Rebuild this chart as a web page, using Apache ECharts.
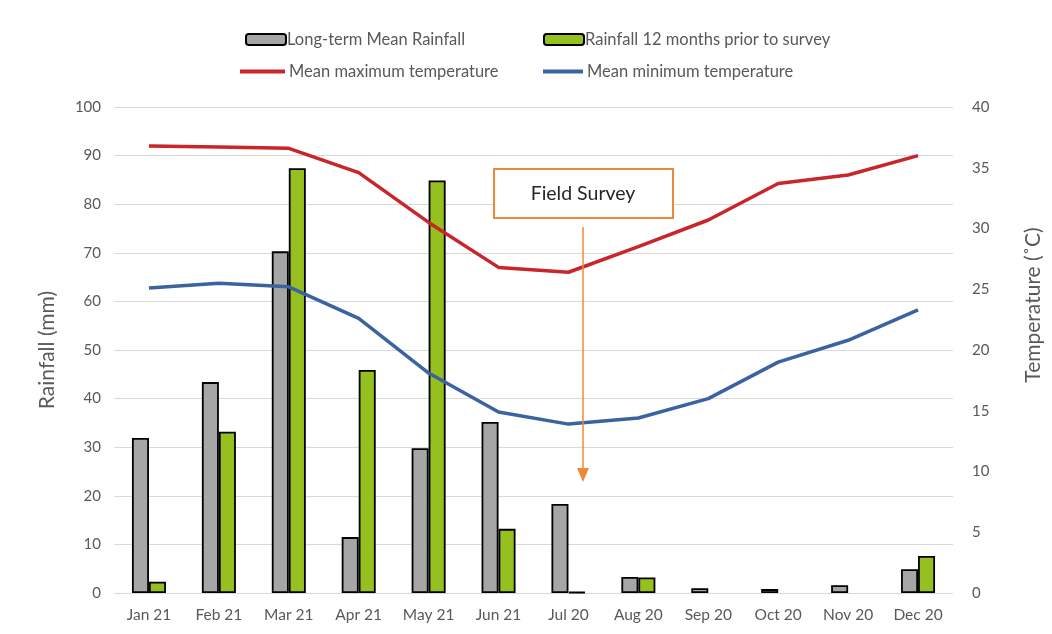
<!DOCTYPE html>
<html><head><meta charset="utf-8">
<script src="https://cdn.jsdelivr.net/npm/echarts@6/dist/echarts.min.js"></script>
<style>html,body{margin:0;padding:0;background:#fff}#c{width:1052px;height:634px}</style>
</head><body><div id="c"></div>
<script>
const categories = ['Jan 21','Feb 21','Mar 21','Apr 21','May 21','Jun 21','Jul 20','Aug 20','Sep 20','Oct 20','Nov 20','Dec 20'];
const longTermRain = [31.9, 43.4, 70.3, 11.5, 29.8, 35.2, 18.3, 3.3, 1.0, 0.8, 1.6, 4.9];
const priorRain = [2.3, 33.2, 87.4, 45.9, 84.9, 13.2, 0.2, 3.2, null, null, null, 7.6];
const maxTemp = [36.8, 36.7, 36.6, 34.6, 30.5, 26.8, 26.4, 28.5, 30.7, 33.7, 34.4, 36.0];
const minTemp = [25.1, 25.5, 25.2, 22.6, 18.1, 14.9, 13.9, 14.4, 16.0, 19.0, 20.8, 23.3];

const FONT = 'Lato';
const TXT = '#595959';
const chart = echarts.init(document.getElementById('c'));
const legendBase = {
  itemWidth: 40, itemHeight: 11, itemGap: 0,
  textStyle: { fontFamily: FONT, fontSize: 16.5, color: TXT, padding: [0,0,0,-4] },
  selectedMode: false
};
const lineLegendText = { fontFamily: FONT, fontSize: 16.5, color: TXT, padding: [0,0,0,-1] };
chart.setOption({
  animation: false,
  textStyle: { fontFamily: FONT },
  legend: [
    Object.assign({}, legendBase, { left: 240, top: 26, data: ['Long-term Mean Rainfall'] }),
    Object.assign({}, legendBase, { left: 538, top: 26, data: ['Rainfall 12 months prior to survey'] }),
    Object.assign({}, legendBase, { left: 235, top: 58, itemWidth: 45, itemHeight: 4, textStyle: lineLegendText,
      data: [{name:'Mean maximum temperature', icon:'rect', itemStyle:{color:'#c8262b'}}] }),
    Object.assign({}, legendBase, { left: 538, top: 58, itemWidth: 40, itemHeight: 4, textStyle: lineLegendText,
      data: [{name:'Mean minimum temperature', icon:'rect', itemStyle:{color:'#3a63a0'}}] })
  ],
  grid: { left: 114, right: 93, top: 107, bottom: 41 },
  xAxis: {
    type: 'category', data: categories,
    axisLine: { show: false }, axisTick: { show: false },
    axisLabel: { fontFamily: FONT, fontSize: 15.5, color: TXT, margin: 14 }
  },
  yAxis: [
    { type: 'value', min: 0, max: 100, interval: 10, position: 'left',
      name: 'Rainfall (mm)', nameLocation: 'middle', nameGap: 56, nameRotate: 90,
      nameTextStyle: { fontFamily: FONT, fontSize: 21, color: TXT },
      axisLabel: { fontFamily: FONT, fontSize: 15, color: TXT, margin: 13 },
      splitLine: { lineStyle: { color: '#d9d9d9', width: 1.2 } },
      axisLine: { show: false }, axisTick: { show: false } },
    { type: 'value', min: 0, max: 40, interval: 5, position: 'right',
      name: 'Temperature (˚C)', nameLocation: 'middle', nameGap: 70, nameRotate: 90,
      nameTextStyle: { fontFamily: FONT, fontSize: 21, color: TXT, padding: [0, 0, 0, 90] },
      axisLabel: { fontFamily: FONT, fontSize: 15, color: TXT, margin: 19 },
      splitLine: { show: false }, axisLine: { show: false }, axisTick: { show: false } }
  ],
  series: [
    { name: 'Long-term Mean Rainfall', type: 'bar', data: longTermRain, barWidth: 17, barGap: '0%',
      itemStyle: { color: '#a6a6a6', borderColor: '#000', borderWidth: 1.8 } },
    { name: 'Rainfall 12 months prior to survey', type: 'bar', data: priorRain, barWidth: 17, barGap: '0%',
      itemStyle: { color: '#96bf20', borderColor: '#000', borderWidth: 1.8 } },
    { name: 'Mean maximum temperature', type: 'line', yAxisIndex: 1, data: maxTemp, symbol: 'none',
      lineStyle: { color: '#c8262b', width: 3.5 }, itemStyle: { color: '#c8262b' } },
    { name: 'Mean minimum temperature', type: 'line', yAxisIndex: 1, data: minTemp, symbol: 'none',
      lineStyle: { color: '#3a63a0', width: 3.5 }, itemStyle: { color: '#3a63a0' } }
  ],
  graphic: [
    { type: 'rect', shape: { x: 494, y: 169, width: 179, height: 49 },
      style: { fill: '#fff', stroke: '#f0883a', lineWidth: 2 }, z: 100 },
    { type: 'text', x: 583, y: 194, z: 101,
      style: { text: 'Field Survey', fontFamily: FONT, fontSize: 19.5, fill: '#262626', align: 'center', verticalAlign: 'middle' } },
    { type: 'line', shape: { x1: 583, y1: 227, x2: 583, y2: 470 }, z: 100,
      style: { stroke: '#f0883a', lineWidth: 1.5 } },
    { type: 'polygon', shape: { points: [[577, 468], [589, 468], [583, 482]] }, z: 100,
      style: { fill: '#f0883a' } }
  ]
});
</script></body></html>
